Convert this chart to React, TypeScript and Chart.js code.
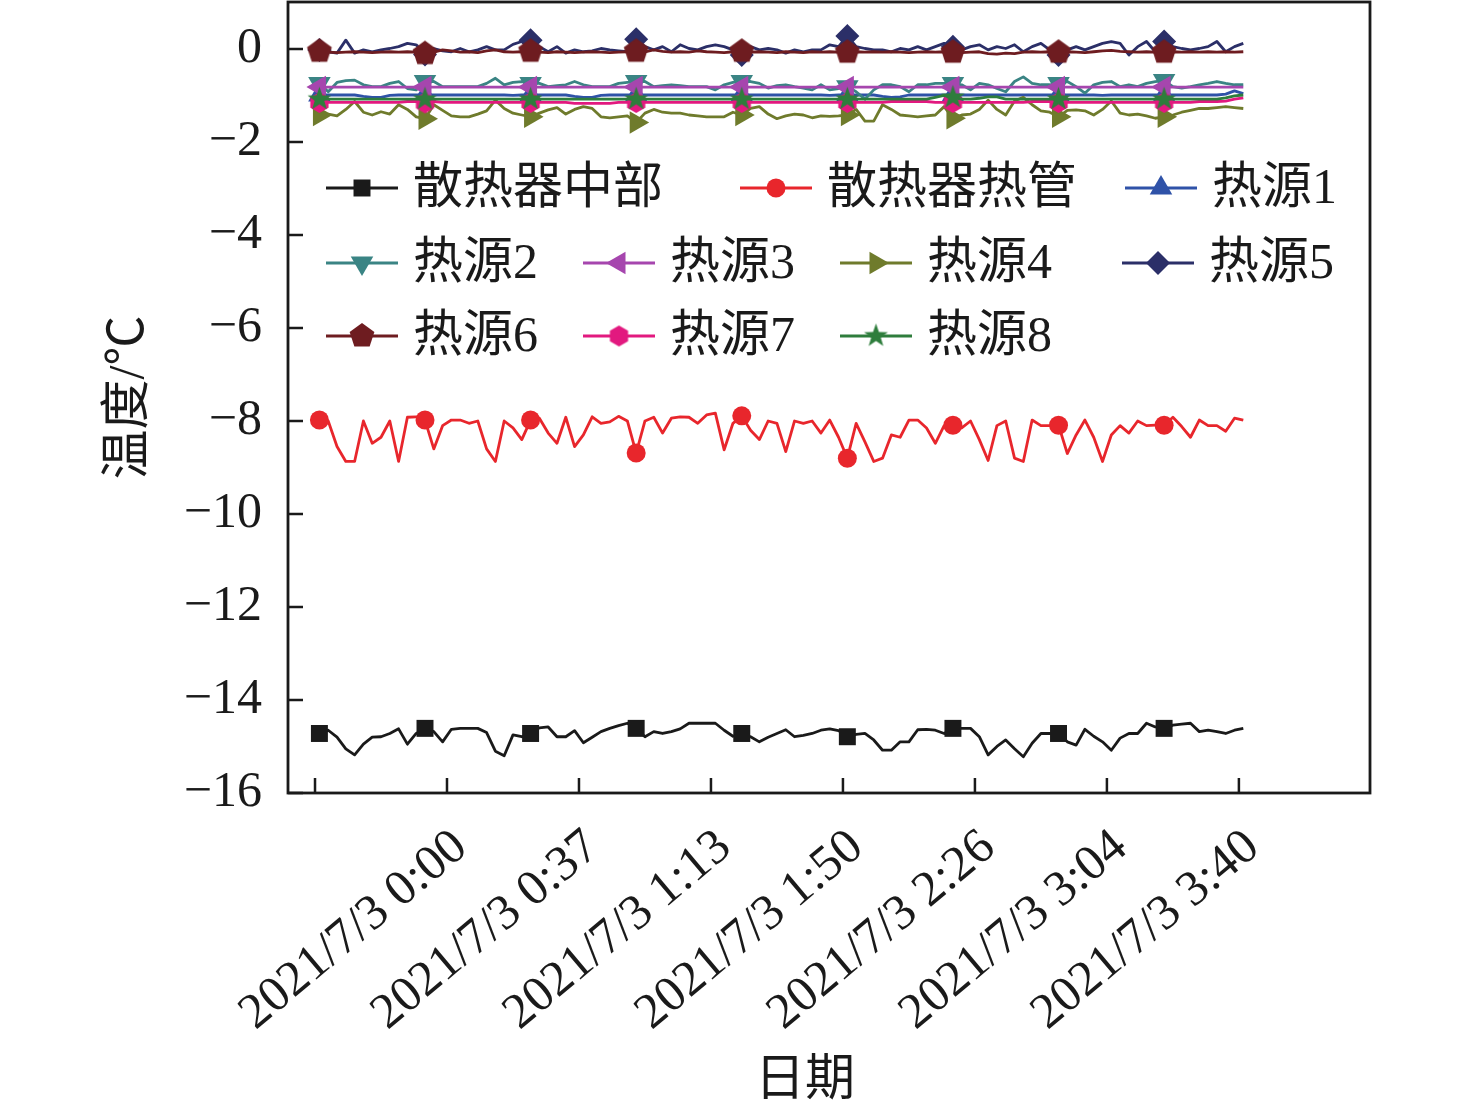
import React, { useEffect, useRef } from 'react';
import { Chart, registerables } from 'chart.js';
import { drawPoint } from 'chart.js/helpers';

Chart.register(...registerables);

// ---------------- data ----------------
// category index of every sample (one sample per category)
const sampleIndex: number[] = Array.from({ length: 106 }, (_, i) => i);

// category-axis tick positions (between categories) and their labels
const tickPositions = [-0.5, 14.5, 29.5, 44.5, 59.5, 74.5, 89.5, 104.5];
const tickLabels = [
  '',
  '2021/7/3 0:00',
  '2021/7/3 0:37',
  '2021/7/3 1:13',
  '2021/7/3 1:50',
  '2021/7/3 2:26',
  '2021/7/3 3:04',
  '2021/7/3 3:40',
];
const yTicks = [-16, -14, -12, -10, -8, -6, -4, -2, 0];

const radiatorMiddle = [
  -14.72, -14.65, -14.80, -15.05, -15.18, -14.95, -14.80, -14.79, -14.72, -14.62,
  -14.95, -14.72, -14.61, -14.68, -14.90, -14.63, -14.61, -14.61, -14.61, -14.70,
  -15.10, -15.20, -14.75, -14.79, -14.72, -14.60, -14.58, -14.79, -14.79, -14.66,
  -14.92, -14.80, -14.68, -14.61, -14.55, -14.50, -14.61, -14.79, -14.68, -14.72,
  -14.68, -14.62, -14.50, -14.50, -14.50, -14.50, -14.65, -14.78, -14.72, -14.79,
  -14.90, -14.80, -14.72, -14.64, -14.79, -14.76, -14.72, -14.65, -14.62, -14.66,
  -14.79, -14.74, -14.72, -14.86, -15.08, -15.08, -14.90, -14.90, -14.64, -14.63,
  -14.65, -14.72, -14.61, -14.61, -14.61, -14.79, -15.18, -15.00, -14.86, -15.05,
  -15.22, -14.93, -14.72, -14.72, -14.72, -14.90, -14.97, -14.63, -14.78, -14.90,
  -15.08, -14.82, -14.72, -14.72, -14.50, -14.58, -14.61, -14.54, -14.52, -14.50,
  -14.68, -14.65, -14.68, -14.72, -14.65, -14.61,
];

const radiatorHeatPipe = [
  -7.98, -8.00, -8.55, -8.87, -8.87, -8.00, -8.48, -8.35, -8.00, -8.87,
  -7.92, -7.91, -7.98, -8.60, -8.10, -7.98, -7.98, -8.05, -8.00, -8.60,
  -8.87, -8.00, -8.15, -8.40, -7.98, -7.94, -8.26, -8.48, -7.92, -8.55,
  -8.30, -7.91, -8.05, -8.02, -7.90, -8.00, -8.69, -8.00, -7.92, -8.26,
  -7.94, -7.91, -7.92, -8.05, -7.87, -7.83, -8.62, -8.05, -7.89, -8.20,
  -8.40, -8.00, -8.05, -8.66, -8.00, -8.05, -8.00, -8.26, -7.98, -8.35,
  -8.80, -8.05, -8.45, -8.87, -8.80, -8.30, -8.35, -7.98, -7.98, -8.15,
  -8.48, -8.10, -8.09, -8.15, -8.00, -8.40, -8.85, -8.10, -8.00, -8.80,
  -8.87, -7.98, -8.10, -8.10, -8.09, -8.70, -8.30, -7.98, -8.35, -8.87,
  -8.30, -8.10, -8.26, -8.00, -8.10, -8.09, -8.09, -7.92, -8.12, -8.35,
  -7.98, -8.10, -8.10, -8.22, -7.94, -7.98,
];

const source1 = [
  -0.99, -0.99, -0.99, -0.99, -0.99, -1.02, -1.04, -1.04, -1.00, -0.99,
  -0.99, -0.99, -0.99, -0.99, -0.99, -0.99, -0.99, -0.99, -0.99, -0.99,
  -0.99, -0.99, -1.00, -0.99, -0.99, -0.99, -0.99, -0.99, -0.99, -1.02,
  -1.04, -1.04, -1.00, -0.99, -0.99, -0.99, -0.99, -0.99, -0.99, -0.99,
  -0.99, -0.99, -0.99, -0.99, -0.99, -0.99, -0.99, -0.99, -0.99, -0.99,
  -0.99, -0.99, -0.99, -0.99, -0.99, -0.99, -0.99, -0.99, -1.00, -0.99,
  -0.99, -0.99, -0.99, -0.99, -1.02, -1.04, -1.03, -0.99, -0.99, -0.99,
  -0.99, -0.99, -0.99, -0.99, -0.99, -0.99, -0.99, -0.99, -0.99, -0.99,
  -0.99, -0.99, -0.99, -0.99, -0.99, -0.99, -0.99, -0.99, -0.99, -1.00,
  -0.99, -0.99, -0.99, -0.99, -0.99, -0.99, -0.99, -0.99, -0.99, -0.99,
  -0.99, -0.99, -0.99, -0.97, -0.90, -0.96,
];

const source2 = [
  -0.74, -0.92, -0.72, -0.68, -0.67, -0.77, -0.81, -0.81, -0.74, -0.70,
  -0.85, -0.88, -0.70, -0.70, -0.81, -0.81, -0.81, -0.81, -0.81, -0.74,
  -0.63, -0.77, -0.72, -0.70, -0.74, -0.74, -0.81, -0.79, -0.77, -0.70,
  -0.77, -0.81, -0.81, -0.81, -0.74, -0.72, -0.70, -0.70, -0.81, -0.79,
  -0.77, -0.79, -0.81, -0.81, -0.81, -0.88, -0.77, -0.72, -0.70, -0.70,
  -0.74, -0.84, -0.79, -0.77, -0.81, -0.84, -0.88, -0.77, -0.88, -0.85,
  -0.81, -0.92, -1.08, -0.88, -0.77, -0.77, -0.81, -0.92, -0.77, -0.77,
  -0.74, -0.74, -0.74, -0.77, -0.88, -0.74, -0.77, -0.85, -0.92, -0.70,
  -0.60, -0.74, -0.77, -0.77, -0.74, -0.70, -0.81, -0.95, -0.77, -0.72,
  -0.70, -0.81, -0.77, -0.81, -0.74, -0.70, -0.68, -0.81, -0.84, -0.81,
  -0.77, -0.74, -0.70, -0.74, -0.77, -0.77,
];

const source3 = [
  -0.82, -0.82, -0.82, -0.82, -0.82, -0.82, -0.82, -0.82, -0.82, -0.82,
  -0.82, -0.82, -0.82, -0.82, -0.82, -0.82, -0.82, -0.82, -0.82, -0.82,
  -0.82, -0.82, -0.82, -0.82, -0.82, -0.82, -0.82, -0.82, -0.82, -0.82,
  -0.82, -0.82, -0.82, -0.82, -0.82, -0.82, -0.82, -0.82, -0.82, -0.82,
  -0.82, -0.82, -0.82, -0.82, -0.82, -0.82, -0.82, -0.82, -0.82, -0.82,
  -0.82, -0.82, -0.82, -0.82, -0.82, -0.82, -0.82, -0.82, -0.82, -0.82,
  -0.82, -0.82, -0.82, -0.82, -0.82, -0.82, -0.82, -0.82, -0.82, -0.82,
  -0.82, -0.82, -0.82, -0.82, -0.82, -0.82, -0.82, -0.82, -0.82, -0.82,
  -0.82, -0.82, -0.82, -0.82, -0.82, -0.82, -0.82, -0.82, -0.82, -0.82,
  -0.82, -0.82, -0.82, -0.82, -0.82, -0.82, -0.82, -0.82, -0.82, -0.82,
  -0.82, -0.82, -0.82, -0.82, -0.82, -0.82,
];

const source4 = [
  -1.42, -1.40, -1.44, -1.30, -1.13, -1.36, -1.42, -1.35, -1.40, -1.20,
  -1.30, -1.46, -1.50, -1.20, -1.32, -1.44, -1.46, -1.46, -1.40, -1.33,
  -1.10, -1.28, -1.38, -1.42, -1.46, -1.38, -1.31, -1.26, -1.40, -1.30,
  -1.24, -1.28, -1.46, -1.48, -1.46, -1.44, -1.58, -1.38, -1.30, -1.36,
  -1.38, -1.38, -1.42, -1.44, -1.46, -1.46, -1.46, -1.36, -1.42, -1.28,
  -1.24, -1.40, -1.50, -1.44, -1.40, -1.42, -1.48, -1.44, -1.45, -1.44,
  -1.42, -1.30, -1.55, -1.55, -1.20, -1.30, -1.42, -1.44, -1.46, -1.44,
  -1.42, -1.24, -1.49, -1.42, -1.40, -1.30, -1.10, -1.30, -1.42, -1.12,
  -1.04, -1.20, -1.33, -1.36, -1.46, -1.32, -1.31, -1.33, -1.42, -1.30,
  -1.12, -1.38, -1.42, -1.40, -1.44, -1.49, -1.46, -1.42, -1.36, -1.32,
  -1.28, -1.28, -1.26, -1.24, -1.26, -1.28,
];

const source5 = [
  -0.02, -0.06, -0.09, 0.19, -0.09, -0.02, -0.06, -0.02, 0.01, 0.05,
  0.12, 0.09, -0.12, 0.01, -0.04, -0.06, 0.01, -0.06, -0.02, 0.05,
  -0.02, -0.02, 0.10, 0.16, 0.19, 0.05, -0.06, 0.05, -0.09, -0.02,
  -0.06, -0.04, 0.01, -0.02, -0.04, -0.06, 0.21, 0.05, -0.02, 0.05,
  -0.06, 0.09, 0.01, -0.02, 0.05, 0.09, 0.05, -0.02, -0.13, 0.05,
  -0.02, 0.01, -0.02, -0.09, -0.02, -0.06, -0.02, -0.02, 0.09, 0.05,
  0.28, 0.05, 0.01, -0.02, -0.02, -0.06, 0.01, -0.02, 0.05, -0.02,
  0.05, 0.12, 0.05, -0.02, 0.05, 0.09, -0.02, 0.05, 0.01, 0.09,
  -0.06, 0.05, 0.12, -0.02, -0.13, -0.02, 0.05, -0.02, 0.05, 0.12,
  0.16, 0.12, -0.13, 0.05, 0.16, -0.06, 0.16, 0.05, 0.01, -0.02,
  0.01, 0.05, 0.16, -0.06, 0.05, 0.12,
];

const source6 = [
  -0.05, -0.07, -0.08, -0.07, -0.06, -0.07, -0.08, -0.07, -0.06, -0.07,
  -0.06, -0.07, -0.10, -0.07, -0.02, -0.04, -0.07, -0.06, -0.08, -0.04,
  -0.02, -0.06, -0.07, -0.06, -0.05, -0.07, -0.08, -0.06, -0.07, -0.08,
  -0.07, -0.06, -0.07, -0.08, -0.07, -0.06, -0.05, -0.06, -0.02, -0.05,
  -0.07, -0.06, -0.07, -0.04, -0.06, -0.07, -0.08, -0.06, -0.05, -0.07,
  -0.06, -0.07, -0.08, -0.06, -0.07, -0.08, -0.06, -0.07, -0.06, -0.07,
  -0.07, -0.06, -0.07, -0.06, -0.07, -0.06, -0.07, -0.08, -0.07, -0.06,
  -0.07, -0.06, -0.07, -0.08, -0.07, -0.06, -0.10, -0.11, -0.09, -0.10,
  -0.07, -0.06, -0.07, -0.06, -0.07, -0.06, -0.07, -0.08, -0.06, -0.04,
  -0.03, -0.05, -0.06, -0.07, -0.06, -0.07, -0.07, -0.06, -0.07, -0.06,
  -0.07, -0.06, -0.07, -0.06, -0.07, -0.06,
];

const source7 = [
  -1.15, -1.15, -1.15, -1.15, -1.15, -1.15, -1.15, -1.15, -1.15, -1.15,
  -1.13, -1.13, -1.16, -1.13, -1.15, -1.15, -1.15, -1.15, -1.15, -1.15,
  -1.15, -1.15, -1.15, -1.15, -1.15, -1.15, -1.15, -1.15, -1.15, -1.17,
  -1.17, -1.17, -1.17, -1.17, -1.15, -1.15, -1.15, -1.15, -1.15, -1.15,
  -1.15, -1.15, -1.15, -1.15, -1.15, -1.15, -1.15, -1.15, -1.15, -1.15,
  -1.15, -1.15, -1.15, -1.15, -1.15, -1.15, -1.15, -1.15, -1.15, -1.15,
  -1.15, -1.15, -1.15, -1.15, -1.15, -1.13, -1.13, -1.13, -1.13, -1.13,
  -1.15, -1.15, -1.15, -1.15, -1.15, -1.15, -1.15, -1.15, -1.15, -1.15,
  -1.15, -1.13, -1.13, -1.13, -1.15, -1.15, -1.15, -1.15, -1.15, -1.15,
  -1.15, -1.15, -1.15, -1.15, -1.15, -1.15, -1.15, -1.15, -1.15, -1.15,
  -1.13, -1.13, -1.13, -1.12, -1.08, -1.05,
];

const source8 = [
  -1.08, -1.08, -1.08, -1.08, -1.08, -1.08, -1.08, -1.08, -1.08, -1.08,
  -1.08, -1.08, -1.08, -1.08, -1.08, -1.08, -1.08, -1.08, -1.08, -1.08,
  -1.08, -1.08, -1.08, -1.08, -1.08, -1.08, -1.08, -1.08, -1.08, -1.08,
  -1.08, -1.08, -1.08, -1.08, -1.08, -1.08, -1.08, -1.08, -1.08, -1.08,
  -1.08, -1.08, -1.08, -1.08, -1.08, -1.08, -1.08, -1.08, -1.08, -1.08,
  -1.08, -1.08, -1.08, -1.08, -1.08, -1.08, -1.08, -1.08, -1.08, -1.08,
  -1.08, -1.08, -1.08, -1.08, -1.08, -1.08, -1.08, -1.08, -1.08, -1.08,
  -1.04, -1.00, -1.04, -1.08, -1.08, -1.06, -1.03, -1.03, -1.08, -1.08,
  -1.08, -1.08, -1.08, -1.08, -1.08, -1.08, -1.08, -1.08, -1.08, -1.08,
  -1.08, -1.08, -1.08, -1.08, -1.08, -1.08, -1.08, -1.08, -1.08, -1.08,
  -1.08, -1.08, -1.08, -1.05, -1.01, -0.99,
];

const seriesNames = [
  '散热器中部', '散热器热管', '热源1', '热源2', '热源3',
  '热源4', '热源5', '热源6', '热源7', '热源8',
];
const seriesValues = [
  radiatorMiddle, radiatorHeatPipe, source1, source2, source3,
  source4, source5, source6, source7, source8,
];
const seriesColors = [
  '#1a1a1a', '#e8262c', '#2f52a8', '#3a8484', '#a646ae',
  '#6f7b2c', '#2b2f68', '#6e1c20', '#e2197f', '#2e7d3c',
];

const MARKER_EVERY = 12;
const FONT = '"Liberation Serif", "Times New Roman", "Noto Sans CJK SC", serif';
const INK = '#1a1a1a';

function polygonImage(color: string, outer: number, inner: number, points: number, startDeg: number) {
  const size = Math.ceil(outer * 2 + 2);
  const c = document.createElement('canvas');
  c.width = size;
  c.height = size;
  const g = c.getContext('2d')!;
  g.fillStyle = color;
  g.beginPath();
  const n = inner > 0 ? points * 2 : points;
  for (let k = 0; k < n; k++) {
    const r = inner > 0 && k % 2 === 1 ? inner : outer;
    const a = ((startDeg + (360 / n) * k) * Math.PI) / 180;
    const px = size / 2 + r * Math.cos(a);
    const py = size / 2 + r * Math.sin(a);
    if (k === 0) g.moveTo(px, py);
    else g.lineTo(px, py);
  }
  g.closePath();
  g.fill();
  return c;
}

export default function App() {
  const canvasRef = useRef<HTMLCanvasElement | null>(null);

  useEffect(() => {
    document.body.style.margin = '0';
    const canvas = canvasRef.current;
    if (!canvas) return;

    const pentagon = polygonImage(seriesColors[7], 13, 0, 5, -90);
    const hexagon = polygonImage(seriesColors[8], 10.5, 0, 6, -90);
    const star = polygonImage(seriesColors[9], 12.5, 5, 5, -90);

    const markers: { style: any; rotation: number; radius: number }[] = [
      { style: 'rect', rotation: 0, radius: 12 },
      { style: 'circle', rotation: 0, radius: 9.5 },
      { style: 'triangle', rotation: 0, radius: 13 },
      { style: 'triangle', rotation: 180, radius: 13 },
      { style: 'triangle', rotation: 270, radius: 13 },
      { style: 'triangle', rotation: 90, radius: 13 },
      { style: 'rectRot', rotation: 0, radius: 12 },
      { style: pentagon, rotation: 0, radius: 12 },
      { style: hexagon, rotation: 0, radius: 10 },
      { style: star, rotation: 0, radius: 12 },
    ];

    const datasets = seriesNames.map((name, idx) => ({
      label: name,
      data: seriesValues[idx].map((v, i) => ({ x: sampleIndex[i], y: v })),
      borderColor: seriesColors[idx],
      backgroundColor: seriesColors[idx],
      borderWidth: 2.8,
      borderJoinStyle: 'round' as const,
      tension: 0,
      pointStyle: markers[idx].style,
      pointRotation: markers[idx].rotation,
      pointRadius: (c: any) => (c.dataIndex % MARKER_EVERY === 0 ? markers[idx].radius : 0),
      pointHoverRadius: 0,
      pointBorderWidth: 0,
      order: -idx,
    }));

    // legend layout: [dataset index, line start offset from plot left], row offset from plot top
    const legendRows: { dy: number; items: [number, number][] }[] = [
      { dy: 186, items: [[0, 38], [1, 452], [2, 837]] },
      { dy: 261, items: [[3, 38], [4, 295], [5, 552], [6, 834]] },
      { dy: 334, items: [[7, 38], [8, 295], [9, 552]] },
    ];

    const framePlugin = {
      id: 'frameAndTicks',
      afterDraw(chart: any) {
        const { ctx, chartArea: a, scales } = chart;
        ctx.save();
        ctx.strokeStyle = INK;
        ctx.lineWidth = 2.5;
        ctx.beginPath();
        scales.x.ticks.forEach((t: any) => {
          const px = scales.x.getPixelForValue(t.value);
          ctx.moveTo(px, a.bottom);
          ctx.lineTo(px, a.bottom - 15);
        });
        scales.y.ticks.forEach((t: any) => {
          const py = scales.y.getPixelForValue(t.value);
          ctx.moveTo(a.left, py);
          ctx.lineTo(a.left + 15, py);
        });
        ctx.stroke();
        ctx.lineWidth = 2.8;
        ctx.strokeRect(a.left, a.top, a.right - a.left, a.bottom - a.top);

        // axis titles
        ctx.fillStyle = INK;
        ctx.font = `50px ${FONT}`;
        ctx.textAlign = 'center';
        ctx.textBaseline = 'middle';
        ctx.fillText('日期', a.left + 517, a.bottom + 289);
        ctx.save();
        ctx.translate(130, (a.top + a.bottom) / 2);
        ctx.rotate(-Math.PI / 2);
        ctx.fillText('温度/℃', 0, 0);
        ctx.restore();

        // legend
        legendRows.forEach((row) => {
          const y = a.top + row.dy;
          row.items.forEach(([di, off]) => {
            const x = a.left + off;
            const ds = chart.data.datasets[di];
            ctx.strokeStyle = ds.borderColor;
            ctx.lineWidth = 2.8;
            ctx.beginPath();
            ctx.moveTo(x, y);
            ctx.lineTo(x + 72, y);
            ctx.stroke();
            ctx.fillStyle = ds.borderColor;
            drawPoint(ctx, {
              pointStyle: markers[di].style,
              rotation: markers[di].rotation,
              radius: markers[di].radius,
              borderWidth: 0,
            } as any, x + 36, y);
            ctx.fillStyle = INK;
            ctx.font = `50px ${FONT}`;
            ctx.textAlign = 'left';
            ctx.textBaseline = 'middle';
            ctx.fillText(ds.label, x + 87, y + 2);
          });
        });
        ctx.restore();
      },
    };

    const chart = new Chart(canvas, {
      type: 'line',
      data: { datasets: datasets as any },
      options: {
        animation: false,
        responsive: false,
        events: [],
        layout: { autoPadding: false, padding: { left: 0, right: 106, top: 2, bottom: 0 } },
        plugins: { legend: { display: false }, tooltip: { enabled: false } },
        scales: {
          x: {
            type: 'linear',
            min: -3.57,
            max: 119.4,
            grid: { display: false, drawTicks: false },
            border: { display: false },
            afterBuildTicks: (s: any) => {
              s.ticks = tickPositions.map((v) => ({ value: v }));
            },
            afterFit: (s: any) => {
              s.height = 324;
              s.paddingLeft = 0;
              s.paddingRight = 0;
            },
            ticks: {
              autoSkip: false,
              minRotation: 40,
              maxRotation: 40,
              padding: 25,
              labelOffset: 14,
              color: INK,
              font: { family: FONT, size: 50 },
              callback: (_v: any, i: number) => tickLabels[i],
            },
          },
          y: {
            type: 'linear',
            min: -16,
            max: 1.01,
            grid: { display: false, drawTicks: false },
            border: { display: false },
            afterBuildTicks: (s: any) => {
              s.ticks = yTicks.map((v) => ({ value: v }));
            },
            afterFit: (s: any) => {
              s.width = 288;
              s.paddingTop = 0;
              s.paddingBottom = 0;
            },
            ticks: {
              padding: 26,
              color: INK,
              font: { family: FONT, size: 50 },
              callback: (v: any) => (Number(v) < 0 ? '\u2212' + Math.abs(Number(v)) : String(v)),
            },
          },
        },
      },
      plugins: [framePlugin],
    });

    return () => chart.destroy();
  }, []);

  return (
    <div style={{ width: 1476, height: 1117 }}>
      <canvas ref={canvasRef} width={1476} height={1117} style={{ display: 'block' }} />
    </div>
  );
}
